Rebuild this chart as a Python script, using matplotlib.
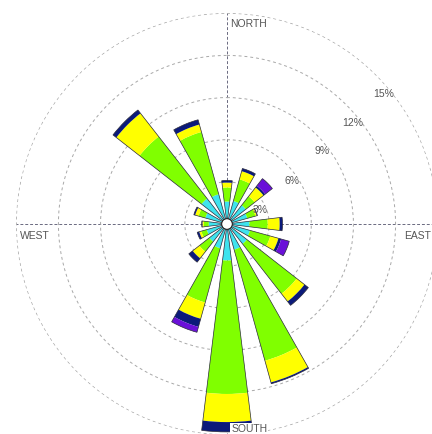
import numpy as np
import matplotlib
matplotlib.use("Agg")
import matplotlib.pyplot as plt

# 16 wind directions (clockwise from north)
directions = ['N', 'NNE', 'NE', 'ENE', 'E', 'ESE', 'SE', 'SSE',
              'S', 'SSW', 'SW', 'WSW', 'W', 'WNW', 'NW', 'NNW']
bearings = np.arange(16) * 22.5

# frequency (%) of each speed class per direction
speed_classes = ['class 1', 'class 2', 'class 3', 'class 4', 'class 5']
cls1 = [1.6, 1.7, 1.7, 1.5, 1.6, 1.7, 1.8, 1.9, 2.6, 1.8, 1.6, 1.5, 1.3, 1.6, 2.3, 2.2]
cls2 = [1.0, 1.6, 0.8, 0.6, 1.3, 1.5, 4.5, 8.2, 9.5, 4.0, 0.9, 0.4, 0.35, 0.5, 5.6, 4.6]
cls3 = [0.35, 0.6, 0.8, 0.1, 0.85, 0.6, 0.7, 1.6, 2.0, 1.2, 0.6, 0.15, 0.1, 0.25, 2.1, 0.55]
cls4 = [0.15, 0.2, 0.15, 0.05, 0.2, 0.2, 0.35, 0.1, 0.7, 0.6, 0.35, 0.15, 0.05, 0.1, 0.3, 0.35]
cls5 = [0, 0, 0.65, 0, 0, 0.6, 0, 0, 0, 0.4, 0, 0, 0, 0, 0, 0]

# rings and compass labels
ring_values = [3, 6, 9, 12, 15]
ring_labels = ['3%', '6%', '9%', '12%', '15%']
label_bearings = [66, 56, 52, 51, 50]
compass = ['NORTH', 'EAST', 'SOUTH', 'WEST']

colors = ['#3fe3ee', '#80ff00', '#ffff00', '#0b1a7a', '#6a10d8']

fig = plt.figure(figsize=(4.32, 4.35), dpi=100)
ax = fig.add_axes([0.037, -0.0023, 0.9769, 0.9701], projection='polar')
ax.set_theta_zero_location('N')
ax.set_theta_direction(-1)
ax.set_axisbelow(True)

theta = np.deg2rad(bearings)
width = np.deg2rad(14)
bottom = np.zeros(16)
for vals, c in zip([cls1, cls2, cls3, cls4, cls5], colors):
    vals = np.array(vals)
    ax.bar(theta, vals, width=width, bottom=bottom, color=c, edgecolor='none', zorder=2)
    bottom = bottom + vals
# outline of each full bar
ax.bar(theta, bottom, width=width, fill=False, edgecolor='#2a2a3a', linewidth=0.5, zorder=3)

# white calm circle in the middle
ax.add_artist(plt.Circle((0.5, 0.5), 0.38 / 15 / 2, transform=ax.transAxes,
                         facecolor='white', edgecolor='#222222', linewidth=0.8, zorder=4))

# grid
ax.set_ylim(0, 15.02)
ax.set_yticks(ring_values)
ax.set_yticklabels([])
ax.set_xticks(np.deg2rad([0, 90, 180, 270]))
ax.set_xticklabels([])
ax.yaxis.grid(True, color='#a8a8a8', linestyle=(0, (3, 3)), linewidth=0.7)
ax.xaxis.grid(True, color='#6a6a80', linestyle=(0, (3, 2)), linewidth=0.7)
ax.spines['polar'].set_visible(False)

for v, lab, b in zip(ring_values, ring_labels, label_bearings):
    ax.text(np.deg2rad(b), v - 0.45, lab, ha='center', va='center',
            fontsize=7.5, color='#555555', family='Liberation Sans', zorder=5)

# compass labels inside the outer ring
tcol = '#555555'
ax.annotate(compass[0], xy=(0, 14.3), xytext=(2, 0), textcoords='offset points',
            ha='left', va='center', fontsize=7.5, color=tcol, family='Liberation Sans')
ax.annotate(compass[1], xy=(np.pi / 2, 14.5), xytext=(0, -4), textcoords='offset points',
            ha='right', va='top', fontsize=7.5, color=tcol, family='Liberation Sans')
ax.annotate(compass[2], xy=(np.pi, 14.55), xytext=(3, 0), textcoords='offset points',
            ha='left', va='center', fontsize=7.5, color=tcol, family='Liberation Sans',
            bbox=dict(facecolor='white', edgecolor='none', pad=0.5), zorder=5)
ax.annotate(compass[3], xy=(3 * np.pi / 2, 14.75), xytext=(0, -4), textcoords='offset points',
            ha='left', va='top', fontsize=7.5, color=tcol, family='Liberation Sans')

fig.savefig('out.png', dpi=100)
